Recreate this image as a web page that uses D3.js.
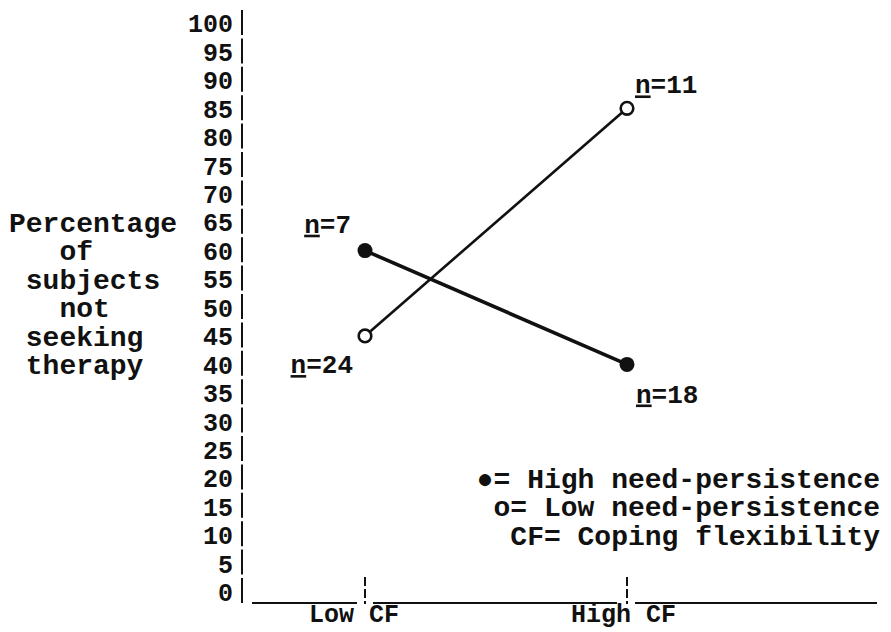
<!DOCTYPE html>
<html>
<head>
<meta charset="utf-8">
<script src="https://cdn.jsdelivr.net/npm/d3@7"></script>
<style>
  html, body { margin: 0; padding: 0; background: #fff; }
  svg { display: block; }
  text { font-family: "Liberation Mono", "DejaVu Sans Mono", monospace; font-weight: bold; fill: #111; white-space: pre; }
</style>
</head>
<body>
<svg id="chart" width="891" height="632"></svg>
<script>
// values
var categories = ['Low CF', 'High CF'];
var highPersist = [60, 40];      // filled dots
var lowPersist = [45, 85];       // open dots
var highPersistN = ['7', '18'];
var lowPersistN = ['24', '11'];
var yTicks = [0, 5, 10, 15, 20, 25, 30, 35, 40, 45, 50, 55, 60, 65, 70, 75, 80, 85, 90, 95, 100];
var titleLines = ['Percentage', '   of', ' subjects', '   not', ' seeking', ' therapy'];
var legendLines = ['\u25CF= High need-persistence', 'o= Low need-persistence', 'CF= Coping flexibility'];

(function () {
  'use strict';
  var svg = d3.select('#chart');
  var ink = '#111';

  var y = d3.scaleLinear().domain([0, 100]).range([592, 23]);
  var x = d3.scalePoint().domain(categories).range([365, 627]);
  var axisX = 242, baseY = 603;

  // y axis labels (typed numbers, no tick marks)
  var yAxis = d3.axisLeft(y).tickValues(yTicks).tickSize(0).tickPadding(0).tickFormat(d3.format('d'));
  var gy = svg.append('g').attr('transform', 'translate(233,0)').call(yAxis);
  gy.select('.domain').remove();
  gy.selectAll('text')
    .attr('fill', ink)
    .style('font-size', '25px')
    .style('font-family', '"Liberation Mono", monospace')
    .style('font-weight', 'bold')
    .attr('dy', '0.35em');

  // typed vertical axis made of '|' strokes
  svg.append('line')
    .attr('x1', axisX).attr('x2', axisX)
    .attr('y1', 10).attr('y2', baseY + 3)
    .attr('stroke', ink).attr('stroke-width', 2)
    .attr('stroke-dasharray', '25,3.4');

  // baseline underscores broken by the category ticks
  var ticksX = categories.map(function (c) { return x(c); });
  var segs = [[252, ticksX[0] - 8], [ticksX[0] + 8, ticksX[1] - 10], [ticksX[1] + 8, 877]];
  svg.selectAll('.base').data(segs).enter().append('line')
    .attr('class', 'base')
    .attr('x1', function (d) { return d[0]; }).attr('x2', function (d) { return d[1]; })
    .attr('y1', baseY).attr('y2', baseY)
    .attr('stroke', ink).attr('stroke-width', 2.2);
  svg.selectAll('.ctick').data(categories).enter().append('line')
    .attr('class', 'ctick')
    .attr('x1', function (d) { return x(d); }).attr('x2', function (d) { return x(d); })
    .attr('y1', 577).attr('y2', baseY + 1)
    .attr('stroke', ink).attr('stroke-width', 2)
    .attr('stroke-dasharray', '9,3');

  // category labels, the gap between words sits on the tick
  svg.selectAll('.cat').data(categories).enter().append('text')
    .attr('class', 'cat')
    .attr('x', function (d) { return x(d) - 56; })
    .attr('y', 613).attr('dy', '0.35em')
    .style('font-size', '25px')
    .text(function (d) { return d; });

  // y title, one typed line per row
  svg.selectAll('.title').data(titleLines).enter().append('text')
    .attr('class', 'title')
    .attr('x', 9)
    .attr('y', function (d, i) { return y(65 - i * 5); })
    .attr('dy', '0.35em')
    .style('font-size', '28px')
    .text(function (d) { return d; });

  // lines
  var line = d3.line()
    .x(function (d) { return x(d.cat); })
    .y(function (d) { return y(d.v); });
  function pts(vals) {
    return vals.map(function (v, i) { return { cat: categories[i], v: v }; });
  }
  svg.append('path').datum(pts(lowPersist)).attr('d', line)
    .attr('fill', 'none').attr('stroke', ink).attr('stroke-width', 2.6);
  svg.append('path').datum(pts(highPersist)).attr('d', line)
    .attr('fill', 'none').attr('stroke', ink).attr('stroke-width', 3.6);

  svg.selectAll('.open').data(pts(lowPersist)).enter().append('circle')
    .attr('class', 'open')
    .attr('cx', function (d) { return x(d.cat); }).attr('cy', function (d) { return y(d.v); })
    .attr('r', 6.3).attr('fill', '#fff').attr('stroke', ink).attr('stroke-width', 2.6);
  svg.selectAll('.filled').data(pts(highPersist)).enter().append('circle')
    .attr('class', 'filled')
    .attr('cx', function (d) { return x(d.cat); }).attr('cy', function (d) { return y(d.v); })
    .attr('r', 7.5).attr('fill', ink);

  // n labels: left of the Low CF dots, right of the High CF dots
  var nLabels = [
    { cat: categories[0], v: highPersist[0], n: highPersistN[0], dx: -14, dy: -27 },
    { cat: categories[0], v: lowPersist[0], n: lowPersistN[0], dx: -12, dy: 28 },
    { cat: categories[1], v: lowPersist[1], n: lowPersistN[1], dx: 8, dy: -24 },
    { cat: categories[1], v: highPersist[1], n: highPersistN[1], dx: 9, dy: 29 }
  ];
  var nt = svg.selectAll('.nlab').data(nLabels).enter().append('text')
    .attr('class', 'nlab')
    .attr('x', function (d) { return x(d.cat) + d.dx; })
    .attr('y', function (d) { return y(d.v) + d.dy; })
    .attr('dy', '0.35em')
    .attr('text-anchor', function (d) { return d.dx < 0 ? 'end' : 'start'; })
    .style('font-size', '26px');
  nt.append('tspan').style('text-decoration', 'underline').text('n');
  nt.append('tspan').text(function (d) { return '=' + d.n; });

  // legend key, right aligned
  svg.selectAll('.leg').data(legendLines).enter().append('text')
    .attr('class', 'leg')
    .attr('x', 880)
    .attr('y', function (d, i) { return y(20 - i * 5); })
    .attr('dy', '0.35em')
    .attr('text-anchor', 'end')
    .style('font-size', '28px')
    .text(function (d) { return d; });
})();
</script>
</body>
</html>
